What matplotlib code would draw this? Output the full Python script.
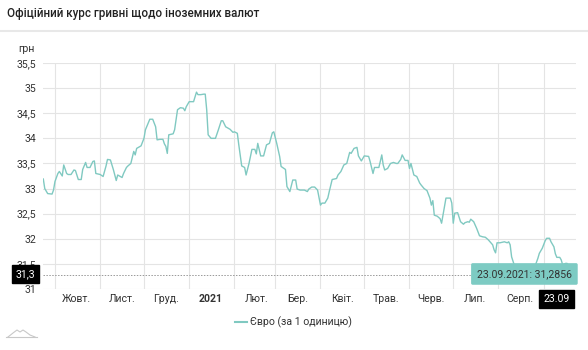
import pandas as pd
import matplotlib.pyplot as plt
import numpy as np

plt.rcParams['font.family'] = ['Roboto', 'DejaVu Sans']

start = pd.Timestamp("2020-09-23")

# day offset from start, EUR rate (UAH for 1 EUR)
days = [0, 1, 3, 6, 7, 8, 10, 11, 13, 14, 16, 17, 19, 21, 22, 24, 26, 27, 29, 30,
        32, 34, 35, 36, 39, 41, 43, 44, 46, 48, 50, 51, 54, 55, 57, 58, 60, 62, 63, 64,
        67, 69, 70, 73, 75, 77, 78, 80, 82, 83, 84, 85, 86, 89, 90, 92, 94, 96, 97, 98,
        100, 103, 105, 106, 108, 110, 111, 112, 113, 115, 118, 120, 122, 123, 125, 128, 130, 131, 133, 134,
        136, 138, 139, 141, 143, 145, 146, 147, 149, 151, 153, 155, 157, 158, 160, 162, 163, 166, 167, 169,
        171, 173, 174, 176, 179, 181, 182, 184, 186, 188, 190, 191, 193, 195, 196, 198, 201, 202, 204, 206,
        208, 210, 211, 213, 215, 216, 218, 220, 223, 224, 226, 227, 230, 231, 232, 233, 234, 236, 238, 240,
        242, 243, 245, 246, 248, 250, 251, 252, 254, 256, 258, 259, 261, 263, 265, 266, 267, 268, 270, 272,
        273, 275, 276, 279, 280, 281, 282, 284, 286, 288, 289, 291, 292, 293, 295, 297, 299, 301, 303, 305,
        308, 309, 310, 311, 313, 316, 318, 319, 320, 321, 323, 325, 330, 334, 337, 339, 340, 342, 344, 345,
        347, 348, 350, 351, 352, 354, 355, 356, 358, 359, 362, 365]
eur = [33.19, 33.00, 32.90, 32.89, 32.97, 33.14, 33.30, 33.34, 33.25, 33.47, 33.30, 33.28, 33.28, 33.37, 33.36, 33.18, 33.18, 33.38, 33.52, 33.42,
       33.42, 33.54, 33.55, 33.30, 33.28, 33.24, 33.45, 33.58, 33.57, 33.38, 33.16, 33.27, 33.22, 33.30, 33.42, 33.45, 33.50, 33.74, 33.67, 33.80,
       33.85, 34.00, 34.17, 34.38, 34.38, 34.23, 33.97, 33.98, 33.98, 33.89, 33.84, 33.70, 34.07, 34.09, 34.17, 34.57, 34.61, 34.60, 34.55, 34.63,
       34.73, 34.73, 34.92, 34.87, 34.87, 34.88, 34.88, 34.57, 34.07, 34.00, 34.00, 34.17, 34.35, 34.35, 34.23, 34.18, 34.12, 34.13, 34.10, 33.87,
       33.45, 33.42, 33.27, 33.50, 33.78, 33.78, 33.69, 33.90, 33.65, 33.65, 33.87, 33.90, 34.11, 34.13, 33.90, 33.64, 33.44, 33.38, 33.04, 32.94,
       33.17, 33.17, 32.99, 32.97, 32.97, 32.94, 32.99, 33.03, 33.03, 32.97, 32.67, 32.71, 32.71, 32.81, 32.94, 33.18, 33.20, 33.27, 33.34, 33.47,
       33.50, 33.72, 33.70, 33.80, 33.82, 33.65, 33.55, 33.65, 33.64, 33.54, 33.30, 33.42, 33.42, 33.54, 33.67, 33.47, 33.37, 33.40, 33.50, 33.52,
       33.50, 33.50, 33.58, 33.67, 33.56, 33.56, 33.40, 33.50, 33.27, 33.24, 33.11, 33.07, 33.00, 32.96, 32.81, 32.67, 32.76, 32.47, 32.45, 32.40,
       32.31, 32.64, 32.81, 32.81, 32.71, 32.31, 32.51, 32.52, 32.34, 32.29, 32.32, 32.34, 32.33, 32.39, 32.34, 32.21, 32.06, 32.04, 32.03, 31.98,
       31.88, 31.78, 31.72, 31.92, 31.92, 31.94, 31.92, 31.94, 31.88, 31.64, 31.46, 31.38, 31.32, 31.35, 31.45, 31.61, 31.71, 31.81, 31.96, 32.01,
       32.01, 31.94, 31.84, 31.70, 31.63, 31.63, 31.58, 31.48, 31.51, 31.51, 31.40, 31.2856]

y_ticks = [31, 31.5, 32, 32.5, 33, 33.5, 34, 34.5, 35, 35.5]
y_labels = ["31", "31,5", "32", "32,5", "33", "33,5", "34", "34,5", "35", "35,5"]
month_starts = ["2020-10-01", "2020-11-01", "2020-12-01", "2021-01-01", "2021-02-01", "2021-03-01",
                "2021-04-01", "2021-05-01", "2021-06-01", "2021-07-01", "2021-08-01", "2021-09-01"]
month_labels = ["Жовт.", "Лист.", "Груд.", "2021", "Лют.", "Бер.", "Квіт.", "Трав.", "Черв.", "Лип.", "Серп."]
last_date = "23.09.2021"
last_value = "31,2856"

dates = start + pd.to_timedelta(days, unit="D")
line_color = "#80c9c1"
text_color = "#333333"
fs = 7.6

fig = plt.figure(figsize=(5.88, 3.5), dpi=100)
ax = fig.add_axes([43.3 / 588, 1 - 289 / 350, 532.5 / 588, 226 / 350])

ax.plot(dates, eur, color=line_color, lw=1.0, zorder=3)

ax.set_xlim(dates[0], dates[-1])
ax.set_ylim(31, 35.5)
ax.set_yticks(y_ticks)
ax.set_yticklabels(y_labels)
ms = pd.to_datetime(month_starts)
ax.set_xticks(ms)
ax.set_xticklabels([])
ax.grid(True, color="#e4e4e4", lw=0.8)
ax.set_axisbelow(True)
for s in ax.spines.values():
    s.set_visible(False)
ax.tick_params(axis="both", length=0, labelsize=fs, labelcolor=text_color)
ax.tick_params(axis="y", pad=5)

# month labels at mid-month
for i, lab in enumerate(month_labels):
    mid = ms[i] + pd.Timedelta(days=15)
    ax.text(mid, 30.8, lab, ha="center", va="center", fontsize=fs, color=text_color,
            fontweight="bold" if lab == "2021" else "normal")

# crosshair
ax.axhline(eur[-1], color="#999999", lw=0.7, ls=(0, (1.5, 1.5)), zorder=2)
ax.axvline(dates[-1], color="#999999", lw=0.7, ls=(0, (1.5, 1.5)), zorder=2)

# value boxes
ax.annotate("31,3", xy=(0, eur[-1]), xycoords=("axes fraction", "data"), xytext=(-13, 0.5),
            textcoords="offset points", ha="center", va="center", fontsize=fs, color="white",
            bbox=dict(boxstyle="square,pad=0.35", fc="black", ec="black"), annotation_clip=False, zorder=6)
ax.annotate("23.09", xy=(dates[-1], 0), xycoords=("data", "axes fraction"), xytext=(-14, -7),
            textcoords="offset points", ha="center", va="center", fontsize=fs, color="white",
            bbox=dict(boxstyle="square,pad=0.4", fc="black", ec="black"), annotation_clip=False, zorder=6)

# tooltip
ax.annotate(last_date + ": " + last_value, xy=(dates[-1], eur[-1]), xytext=(-37, 0.5),
            textcoords="offset points", ha="center", va="center", fontsize=fs, color=text_color,
            bbox=dict(boxstyle="round,pad=0.55,rounding_size=0.15", fc="#7dcbc3", ec="none"),
            annotation_clip=False, zorder=7)

# title, unit, separator
fig.text(7 / 588, 1 - 14 / 350, "Офіційний курс гривні щодо іноземних валют", ha="left", va="center",
         fontsize=8.4, fontweight="medium", color="#222222")
fig.add_artist(plt.Line2D([0, 1], [1 - 31 / 350, 1 - 31 / 350], color="#e8e8e8", lw=1.5))
fig.text(18 / 588, 1 - 49 / 350, "грн", ha="left", va="center", fontsize=fs, color=text_color)

# legend
fig.add_artist(plt.Line2D([235 / 588, 247 / 588], [1 - 322 / 350, 1 - 322 / 350], color=line_color, lw=1.5))
fig.text(250 / 588, 1 - 322 / 350, "Євро (за 1 одиницю)", ha="left", va="center", fontsize=fs, color=text_color)

# small logo bottom-left
lx = np.array([8, 13, 17, 20, 23, 26, 30, 35]) / 588
ly = 1 - np.array([337, 333, 330, 332, 330, 332, 335, 337]) / 350
fig.add_artist(plt.Line2D(lx, ly, color="#c8c8c8", lw=0.8))
fig.add_artist(plt.Line2D([6 / 588, 37 / 588], [1 - 337 / 350] * 2, color="#c8c8c8", lw=0.8))

fig.savefig("out.png", dpi=100)
